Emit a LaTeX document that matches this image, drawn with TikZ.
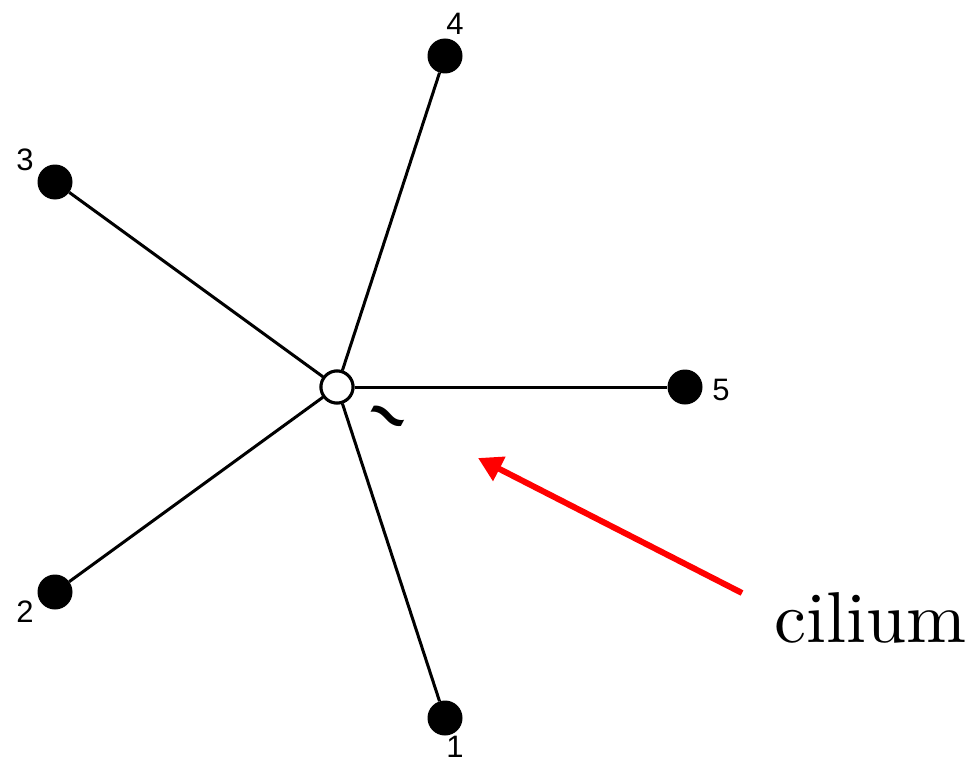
\documentclass[tikz,border=0pt]{standalone}
\usepackage{fontspec}
\usepackage{graphicx}
\usetikzlibrary{arrows.meta}
\newfontfamily\lab{Liberation Sans}
\begin{document}
\begin{tikzpicture}[x=1pt,y=-1pt,
  edge/.style={line width=3pt,black},
  leaf/.style={circle,fill=black,minimum size=35pt,inner sep=0pt},
  hub/.style={circle,draw=black,line width=3pt,fill=white,minimum size=32pt,inner sep=0pt},
  num/.style={font=\lab\fontsize{31}{33}\selectfont,inner sep=0pt},
  ptr/.style={red,line width=6pt,-{Triangle[length=24pt,width=26pt]}}]
\useasboundingbox (0,0) rectangle (974,765);
\node[hub] (c) at (337,387) {};
\node[leaf] (n1) at (445,718) {};
\node[leaf] (n2) at (55,592) {};
\node[leaf] (n3) at (55,182) {};
\node[leaf] (n4) at (445,56) {};
\node[leaf] (n5) at (685,387) {};
\foreach \i in {1,...,5} \draw[edge] (c) -- (n\i);
\node[hub] at (c) {};
\node[num] (l1) at (455,747) {1};
\node[num] (l2) at (25,612) {2};
\node[num] (l3) at (25,160) {3};
\node[num] (l4) at (455,24) {4};
\node[num] (l5) at (721,390) {5};
\node[inner sep=0pt,rotate=-28,font=\lab\bfseries\fontsize{66}{66}\selectfont] (t) at (384,424) {\char`\~};
\node[anchor=base west,inner sep=0pt] (cil) at (774,642) {\scalebox{7.2}{cilium}};
\coordinate (tail) at (742,593);
\coordinate (tip) at (478,458);
\draw[ptr] (tail) -- (tip);
\end{tikzpicture}
\end{document}
